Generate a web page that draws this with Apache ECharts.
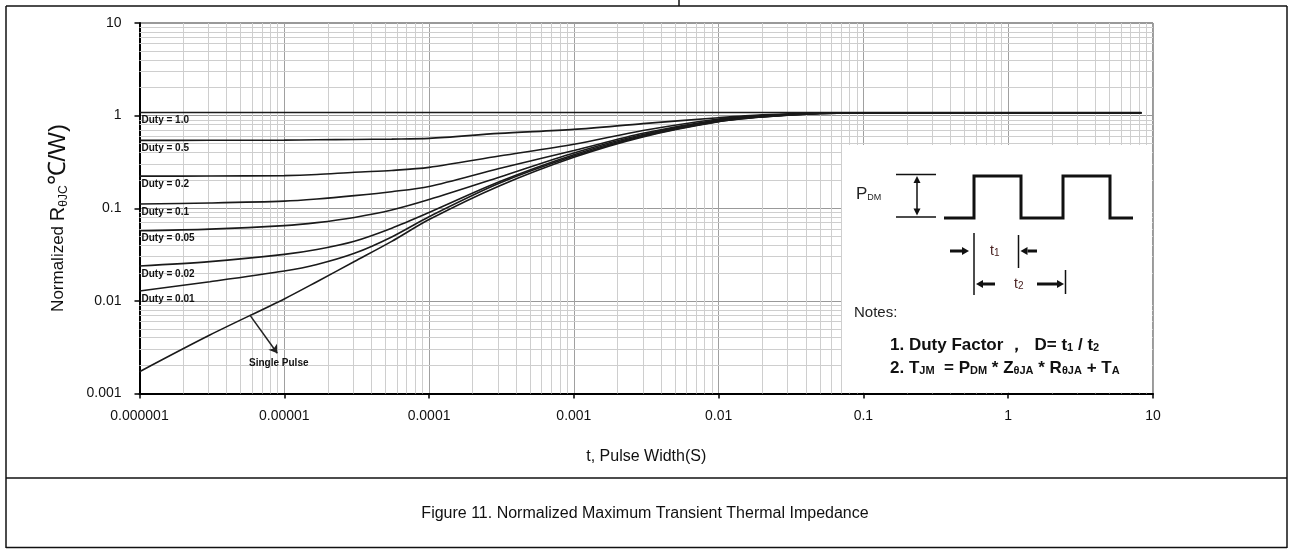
<!DOCTYPE html>
<html><head><meta charset="utf-8">
<script src="https://cdn.jsdelivr.net/npm/echarts@6/dist/echarts.min.js"></script>
<style>html,body{margin:0;padding:0;background:#fff}#c{width:1292px;height:549px}</style>
</head><body><div id="c"></div>
<script>
// ---- data ----
const tPoints = [1e-6, 3.06e-6, 1e-5, 1.68e-5, 3.05e-5, 5.52e-5, 1e-4, 3.05e-4, 1e-3, 3e-3, 1e-2, 2e-2, 5e-2, 0.1, 1, 8.3];
const duty05  = [0.54, 0.542, 0.544, 0.548, 0.553, 0.558, 0.568, 0.643, 0.71, 0.82, 0.95, 1.02, 1.068, 1.072, 1.072, 1.072];
const duty02  = [0.222, 0.223, 0.225, 0.231, 0.245, 0.256, 0.276, 0.366, 0.49, 0.69, 0.92, 1.0, 1.062, 1.072, 1.072, 1.072];
const duty01  = [0.111, 0.114, 0.1195, 0.126, 0.137, 0.151, 0.172, 0.269, 0.42, 0.645, 0.90, 0.99, 1.06, 1.071, 1.071, 1.071];
const duty005 = [0.0572, 0.0595, 0.065, 0.070, 0.0796, 0.0957, 0.124, 0.216, 0.395, 0.625, 0.885, 0.98, 1.058, 1.07, 1.07, 1.07];
const duty002 = [0.0238, 0.0265, 0.0318, 0.0359, 0.0441, 0.061, 0.09, 0.193, 0.378, 0.61, 0.872, 0.975, 1.056, 1.07, 1.07, 1.07];
const duty001 = [0.0128, 0.0161, 0.021, 0.0247, 0.0326, 0.049, 0.081, 0.186, 0.366, 0.60, 0.866, 0.97, 1.055, 1.069, 1.069, 1.069];
const single  = [0.00172, 0.00428, 0.0105, 0.0161, 0.0266, 0.0439, 0.0755, 0.174, 0.355, 0.59, 0.86, 0.965, 1.053, 1.069, 1.069, 1.069];
const duty10T = [1e-6, 8.3];
const duty10  = [1.08, 1.08];
const dutyLabels = ["Duty = 1.0", "Duty = 0.5", "Duty = 0.2", "Duty = 0.1", "Duty = 0.05", "Duty = 0.02", "Duty = 0.01"];
const singleLabel = "Single Pulse";
const singleArrow = [[5.77e-6, 0.00705], [8.95e-6, 0.00272]];
const singleLabelAt = [9.16e-6, 0.00212];
const xTickLabels = ["0.000001", "0.00001", "0.0001", "0.001", "0.01", "0.1", "1", "10"];
const yTickLabels = ["0.001", "0.01", "0.1", "1", "10"];
const xTitle = "t, Pulse Width(S)";
const caption = "Figure 11. Normalized Maximum Transient Thermal Impedance";

// ---- helpers ----
const FF = "'Liberation Sans', Arial, sans-serif";
const X_MIN = 1e-6, X_MAX = 10, Y_MIN = 0.001, Y_MAX = 10;
const minorX = [], minorY = [];
for (let d = -6; d <= 0; d++) for (let m = 2; m <= 9; m++) minorX.push(+(m * Math.pow(10, d)).toPrecision(6));
for (let d = -3; d <= 0; d++) for (let m = 2; m <= 9; m++) minorY.push(+(m * Math.pow(10, d)).toPrecision(6));

const zip = (xs, ys) => xs.map((x, i) => [x, ys[i]]);
const curveSets = [
  [duty10T, duty10], [tPoints, duty05], [tPoints, duty02], [tPoints, duty01],
  [tPoints, duty005], [tPoints, duty002], [tPoints, duty001]
];

const series = [];
series.push({
  type: 'lines', coordinateSystem: 'cartesian2d', z: 1, silent: true, polyline: false,
  lineStyle: { color: '#cecece', width: 1, opacity: 1 },
  data: minorX.map(v => ({ coords: [[v, Y_MIN], [v, Y_MAX]] }))
    .concat(minorY.map(v => ({ coords: [[X_MIN, v], [X_MAX, v]] })))
});
curveSets.forEach((cs, i) => {
  series.push({
    type: 'line', name: dutyLabels[i], z: 3, symbol: 'none', smooth: 0.3,
    data: zip(cs[0], cs[1]),
    lineStyle: { color: '#1a1a1a', width: 1.6 },
    markPoint: {
      symbol: 'circle', symbolSize: 0, animation: false,
      label: { show: true, position: 'right', distance: 2, offset: [0, 8], formatter: dutyLabels[i],
        fontSize: 10, fontWeight: 'bold', color: '#111', fontFamily: FF },
      data: [{ coord: [cs[0][0], cs[1][0]] }]
    }
  });
});
series.push({
  type: 'line', name: singleLabel, z: 3, symbol: 'none', smooth: 0.3,
  data: zip(tPoints, single),
  lineStyle: { color: '#1a1a1a', width: 1.6 },
  markLine: {
    silent: true, animation: false, symbol: ['none', 'arrow'], symbolSize: 8,
    label: { show: false }, lineStyle: { color: '#222', width: 1.5, type: 'solid' },
    data: [[{ coord: singleArrow[0] }, { coord: singleArrow[1] }]]
  },
  markPoint: {
    symbol: 'circle', symbolSize: 0, animation: false,
    label: { show: true, position: 'inside', formatter: singleLabel, fontSize: 10, fontWeight: 'bold', color: '#111', fontFamily: FF },
    data: [{ coord: singleLabelAt }]
  }
});

// ---- inset diagram (graphic) ----
const INK = '#111';
function line(x1, y1, x2, y2, w) {
  return { type: 'line', z: 51, shape: { x1, y1, x2, y2 }, style: { stroke: INK, lineWidth: w || 1.5 } };
}
function arrow(xTail, xTip, y) {
  const dir = xTip > xTail ? 1 : -1;
  const headL = 7;
  return [
    line(xTail, y, xTip - dir * headL, y, 3),
    { type: 'polygon', z: 51, shape: { points: [[xTip, y], [xTip - dir * headL, y - 4], [xTip - dir * headL, y + 4]] }, style: { fill: INK } }
  ];
}
function varrow(x, yTop, yBot) {
  return [
    line(x, yTop + 6, x, yBot - 6, 1.5),
    { type: 'polygon', z: 51, shape: { points: [[x, yTop], [x - 3.5, yTop + 7], [x + 3.5, yTop + 7]] }, style: { fill: INK } },
    { type: 'polygon', z: 51, shape: { points: [[x, yBot], [x - 3.5, yBot - 7], [x + 3.5, yBot - 7]] }, style: { fill: INK } }
  ];
}
const subRich = (size, bold) => ({
  b: { fontSize: size, fontWeight: bold ? 'bold' : 'normal', fontFamily: FF, fill: '#111' },
  s: { fontSize: Math.round(size * 0.62), fontWeight: bold ? 'bold' : 'normal', fontFamily: FF, fill: '#111', verticalAlign: 'bottom' }
});
const insetEls = [
  { type: 'rect', z: 50, shape: { x: 842, y: 145, width: 310, height: 247.5 }, style: { fill: '#fff' } },
  { type: 'text', z: 51, x: 856, y: 194, style: { text: '{p|P}{s|DM}', verticalAlign: 'middle', fill: '#222',
      rich: { p: { fontSize: 17, fontFamily: FF, fill: '#222' }, s: { fontSize: 9, fontFamily: FF, fill: '#222', verticalAlign: 'bottom' } } } },
  line(896, 174.5, 936, 174.5, 1.5),
  line(896, 217, 936, 217, 1.5),
  ...varrow(917, 176, 215.5),
  { type: 'polyline', z: 51, shape: { points: [[944, 218], [974, 218], [974, 176], [1021, 176], [1021, 218], [1063, 218], [1063, 176], [1110, 176], [1110, 218], [1133, 218]] },
    style: { stroke: INK, lineWidth: 3, fill: null } },
  line(974, 233, 974, 295, 1.5),
  line(1018.5, 235, 1018.5, 268, 1.5),
  line(1065.5, 270, 1065.5, 294, 1.5),
  ...arrow(950, 969, 251),
  ...arrow(1037, 1020.5, 251),
  ...arrow(995, 976, 284),
  ...arrow(1037, 1064, 284),
  { type: 'text', z: 51, x: 990, y: 251, style: { text: '{t|t}{s|1}', verticalAlign: 'middle',
      rich: { t: { fontSize: 14, fontFamily: FF, fill: '#4a2222' }, s: { fontSize: 10, fontFamily: FF, fill: '#4a2222', verticalAlign: 'bottom' } } } },
  { type: 'text', z: 51, x: 1014, y: 284, style: { text: '{t|t}{s|2}', verticalAlign: 'middle',
      rich: { t: { fontSize: 14, fontFamily: FF, fill: '#4a2222' }, s: { fontSize: 10, fontFamily: FF, fill: '#4a2222', verticalAlign: 'bottom' } } } },
  { type: 'text', z: 51, x: 854, y: 313, style: { text: 'Notes:', fontSize: 15, fontFamily: FF, fill: '#222', verticalAlign: 'middle' } },
  { type: 'text', z: 51, x: 890, y: 345, style: { text: '{b|1. Duty Factor ，  D= t}{s|1}{b| / t}{s|2}', verticalAlign: 'middle',
      rich: subRich(17, true) } },
  { type: 'text', z: 51, x: 890, y: 368, style: { text: '{b|2. T}{s|JM}{b|  = P}{s|DM}{b| * Z}{s|θJA}{b| * R}{s|θJA}{b| + T}{s|A}', verticalAlign: 'middle',
      rich: subRich(17, true) } }
];

const frameEls = [
  { type: 'line', shape: { x1: 6, y1: 6, x2: 1287, y2: 6 }, style: { stroke: '#111', lineWidth: 1.5 } },
  { type: 'line', shape: { x1: 679, y1: 0, x2: 679, y2: 6 }, style: { stroke: '#111', lineWidth: 1.5 } },
  { type: 'line', shape: { x1: 6, y1: 6, x2: 6, y2: 548 }, style: { stroke: '#111', lineWidth: 1.5 } },
  { type: 'line', shape: { x1: 1287, y1: 6, x2: 1287, y2: 548 }, style: { stroke: '#111', lineWidth: 1.5 } },
  { type: 'line', shape: { x1: 6, y1: 478, x2: 1287, y2: 478 }, style: { stroke: '#111', lineWidth: 1.5 } },
  { type: 'line', shape: { x1: 6, y1: 547.5, x2: 1287, y2: 547.5 }, style: { stroke: '#111', lineWidth: 1.5 } },
  { type: 'text', x: 58, y: 218, rotation: Math.PI / 2, style: { text: '{a|Normalized }{r|R}{b|θJC}{c|℃/W)}', align: 'center', verticalAlign: 'middle',
      rich: { a: { fontSize: 17, fontFamily: FF, fill: '#111' }, r: { fontSize: 20, fontFamily: FF, fill: '#111' },
              b: { fontSize: 12, fontFamily: FF, fill: '#111', verticalAlign: 'bottom' }, c: { fontSize: 24, fontFamily: FF, fill: '#111' } } } },
  { type: 'text', x: 645, y: 514, style: { text: caption, fontSize: 16, fontFamily: FF, fill: '#111', align: 'center', verticalAlign: 'middle' } }
];

const chart = echarts.init(document.getElementById('c'), null, { renderer: 'canvas' });
chart.setOption({
  animation: false,
  backgroundColor: '#fff',
  grid: { left: 139.5, top: 23, width: 1013.5, height: 370.5, show: true, borderColor: '#333', borderWidth: 1, backgroundColor: 'transparent', containLabel: false },
  xAxis: {
    type: 'log', logBase: 10, min: X_MIN, max: X_MAX, splitNumber: 7,
    name: xTitle, nameLocation: 'middle', nameGap: 55,
    nameTextStyle: { fontSize: 16, fontFamily: FF, color: '#111' },
    axisLine: { show: true, onZero: false, lineStyle: { color: '#000', width: 2 } },
    axisTick: { show: true, inside: false, length: 5, lineStyle: { color: '#000', width: 1.5 } },
    axisLabel: { margin: 16, fontSize: 14, fontFamily: FF, color: '#111',
      formatter: v => xTickLabels[Math.round(Math.log10(v)) + 6] },
    splitLine: { show: true, lineStyle: { color: '#a0a0a0', width: 1 } },
    minorTick: { show: false }, minorSplitLine: { show: false }
  },
  yAxis: {
    type: 'log', logBase: 10, min: Y_MIN, max: Y_MAX, splitNumber: 4,
    axisLine: { show: true, onZero: false, lineStyle: { color: '#000', width: 2 } },
    axisTick: { show: true, inside: false, length: 5, lineStyle: { color: '#000', width: 1.5 } },
    axisLabel: { margin: 18, fontSize: 14, fontFamily: FF, color: '#111',
      formatter: v => yTickLabels[Math.round(Math.log10(v)) + 3] },
    splitLine: { show: true, lineStyle: { color: '#999', width: 1 } },
    minorTick: { show: false }, minorSplitLine: { show: false }
  },
  series: series,
  graphic: { elements: frameEls.concat(insetEls) }
});
</script>
</body></html>
